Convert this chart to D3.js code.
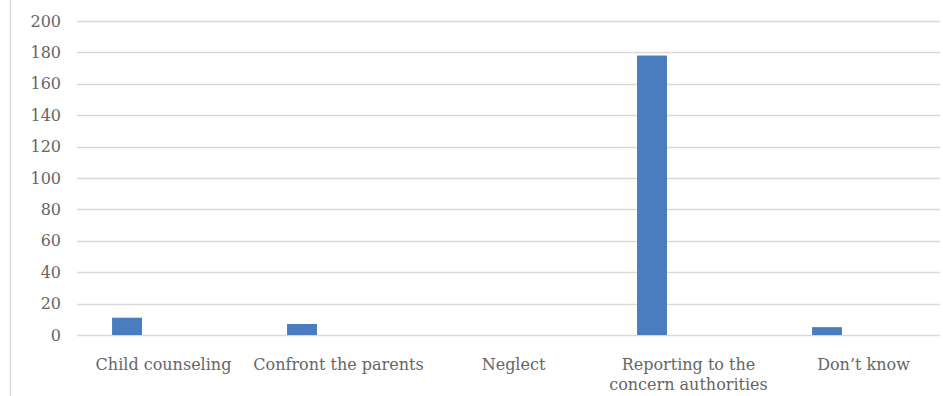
<!DOCTYPE html>
<html>
<head>
<meta charset="utf-8">
<script src="https://cdn.jsdelivr.net/npm/d3@7"></script>
<style>
  body { margin: 0; background: #fff; }
  text { font-family: "DejaVu Serif", "Liberation Serif", serif; fill: #595959; }
</style>
</head>
<body>
<div id="chart"></div>
<script>
// chart data
var categories = ["Child counseling", "Confront the parents", "Neglect", "Reporting to the concern authorities", "Don't know"];
var labelLines = [["Child counseling"], ["Confront the parents"], ["Neglect"], ["Reporting to the", "concern authorities"], ["Don\u2019t know"]];
var values = [11, 7, 0, 178, 5];
var yTicks = [0, 20, 40, 60, 80, 100, 120, 140, 160, 180, 200];

var svgWidth = 943;
var svgHeight = 396;

var margin = { top: 21, right: -8, bottom: 61, left: 76 };
var width = svgWidth - margin.left - margin.right;
var height = svgHeight - margin.top - margin.bottom;

var svg = d3.select("#chart")
  .append("svg")
  .attr("width", svgWidth)
  .attr("height", svgHeight);

// left frame line
svg.append("line")
  .attr("x1", 10.5).attr("x2", 10.5)
  .attr("y1", 0).attr("y2", svgHeight)
  .attr("stroke", "#d9d9d9")
  .attr("stroke-width", 1.5);

var chartGroup = svg.append("g")
  .attr("transform", `translate(${margin.left}, ${margin.top})`);

var x = d3.scaleBand()
  .domain(categories)
  .range([0, width]);

var y = d3.scaleLinear()
  .domain([0, 200])
  .range([height, 0]);

// gridlines
chartGroup.append("g")
  .selectAll("line")
  .data(yTicks)
  .enter()
  .append("line")
  .attr("x1", 1)
  .attr("x2", 864)
  .attr("y1", d => Math.round(y(d)) + 0.5)
  .attr("y2", d => Math.round(y(d)) + 0.5)
  .attr("stroke", "#d9d9d9")
  .attr("stroke-width", 1.5);

// y axis labels
var leftAxis = d3.axisLeft(y).tickValues(yTicks).tickSize(0).tickPadding(15);
var yAxis = chartGroup.append("g").call(leftAxis);
yAxis.select(".domain").remove();
yAxis.selectAll("text")
  .style("font-size", "16px")
  .style("fill", "#666")
  .style("font-family", "\"DejaVu Serif\", serif");

// bars
chartGroup.selectAll("rect")
  .data(values)
  .enter()
  .append("rect")
  .attr("x", (d, i) => x(categories[i]) + x.bandwidth() * 0.206)
  .attr("width", x.bandwidth() * 0.171)
  .attr("y", d => y(d))
  .attr("height", d => height - y(d))
  .attr("fill", "#4a7cc0");

// category labels
var labels = chartGroup.append("g")
  .selectAll("text")
  .data(labelLines)
  .enter()
  .append("text")
  .attr("text-anchor", "middle")
  .attr("x", (d, i) => x(categories[i]) + x.bandwidth() / 2)
  .attr("y", height + 35)
  .style("font-size", "16px")
  .style("fill", "#666");

labels.selectAll("tspan")
  .data(d => d)
  .enter()
  .append("tspan")
  .attr("x", function() { return d3.select(this.parentNode).attr("x"); })
  .attr("dy", (d, i) => i === 0 ? 0 : 20)
  .text(d => d);
</script>
</body>
</html>
